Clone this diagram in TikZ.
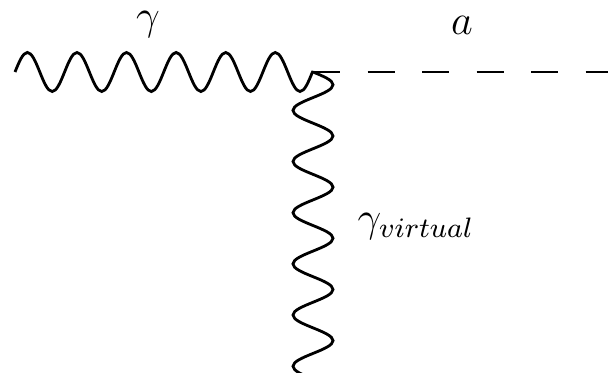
\documentclass[tikz,border=0pt]{standalone}
\usepackage{amsmath}
\usepackage{tikz}
\usetikzlibrary{decorations,positioning}

% plain sine wave, one full period per segment
\pgfdeclaredecoration{photonwave}{initial}{
  \state{initial}[width=+\pgfdecorationsegmentlength, next state=wave,
                  switch if less than=+.99\pgfdecorationsegmentlength to final]{
    \pgfpathmoveto{\pgfpointorigin}
    \pgfpathsine{\pgfqpoint{.25\pgfdecorationsegmentlength}{\pgfdecorationsegmentamplitude}}
    \pgfpathcosine{\pgfqpoint{.25\pgfdecorationsegmentlength}{-1\pgfdecorationsegmentamplitude}}
    \pgfpathsine{\pgfqpoint{.25\pgfdecorationsegmentlength}{-1\pgfdecorationsegmentamplitude}}
    \pgfpathcosine{\pgfqpoint{.25\pgfdecorationsegmentlength}{\pgfdecorationsegmentamplitude}}
  }
  \state{wave}[width=+\pgfdecorationsegmentlength,
               switch if less than=+.99\pgfdecorationsegmentlength to final]{
    \pgfpathsine{\pgfqpoint{.25\pgfdecorationsegmentlength}{\pgfdecorationsegmentamplitude}}
    \pgfpathcosine{\pgfqpoint{.25\pgfdecorationsegmentlength}{-1\pgfdecorationsegmentamplitude}}
    \pgfpathsine{\pgfqpoint{.25\pgfdecorationsegmentlength}{-1\pgfdecorationsegmentamplitude}}
    \pgfpathcosine{\pgfqpoint{.25\pgfdecorationsegmentlength}{\pgfdecorationsegmentamplitude}}
  }
  \state{final}{\pgfpathlineto{\pgfpointdecoratedpathlast}}
}

\tikzset{
  photon/.style={decorate, decoration={photonwave, amplitude=0.195cm, segment length=0.4955cm}, line width=0.8pt},
  vphoton/.style={decorate, decoration={photonwave, amplitude=0.2cm, segment length=0.5114cm}, line width=0.8pt},
  axion/.style={dash pattern=on 7.75pt off 7.75pt, line width=0.8pt},
  lbl/.style={font=\large, anchor=base, inner sep=0pt}
}

\begin{document}
\begin{tikzpicture}[x=0.01cm,y=0.01cm]
\useasboundingbox (0,0) rectangle (608,372);
\coordinate (L) at (15,300);
\coordinate (V) at (313,300);
\coordinate (R) at (608,300);
\coordinate (B) at (313,-58);
% incoming photon and outgoing axion
\draw[photon] (L) -- (V);
\draw[axion] (V) -- (R);
% virtual photon, cut at the bottom edge
\begin{scope}
\clip (0,0) rectangle (608,372);
\draw[vphoton] (V) -- (B);
\end{scope}
\node[lbl] (g) at (148,343) {$\gamma$};
\node[lbl] (a) at (462,338) {$a$};
\node[lbl, anchor=base west] (gv) at (357,141) {$\gamma_{virtual}$};
\end{tikzpicture}
\end{document}
